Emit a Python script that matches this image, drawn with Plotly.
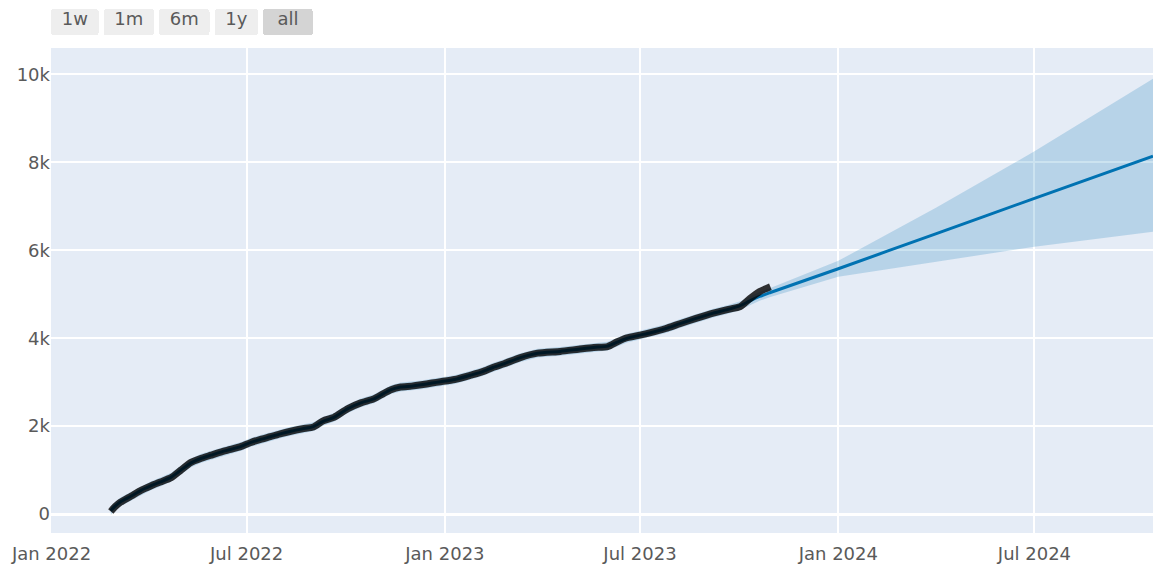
import pandas as pd
import plotly.graph_objects as go

# Observed daily totals (sampled)
actual_dates = [
    "2022-02-25", "2022-03-01", "2022-03-06", "2022-03-16", "2022-03-25",
    "2022-04-03", "2022-04-12", "2022-04-22", "2022-05-01", "2022-05-10",
    "2022-05-20", "2022-05-29", "2022-06-07", "2022-06-16", "2022-06-26",
    "2022-07-05", "2022-07-14", "2022-07-23", "2022-08-02", "2022-08-12",
    "2022-08-22", "2022-09-01", "2022-09-10", "2022-09-20", "2022-10-03",
    "2022-10-15", "2022-10-27", "2022-11-05", "2022-11-12", "2022-11-21",
    "2022-12-01", "2022-12-10", "2022-12-20", "2022-12-28", "2023-01-10",
    "2023-01-25", "2023-02-05", "2023-02-15", "2023-02-25", "2023-03-12",
    "2023-03-28", "2023-04-18", "2023-05-05", "2023-05-19", "2023-06-01",
    "2023-06-10", "2023-06-19", "2023-07-01", "2023-07-10", "2023-07-25",
    "2023-08-07", "2023-08-22", "2023-09-07", "2023-09-20", "2023-10-02",
    "2023-10-11", "2023-10-20", "2023-10-30",
]
actual_values = [
    60, 170, 270, 410, 540,
    640, 730, 830, 1000, 1170,
    1270, 1340, 1410, 1470, 1540,
    1630, 1700, 1760, 1830, 1890,
    1940, 1980, 2120, 2200, 2400,
    2530, 2620, 2740, 2830, 2890,
    2910, 2940, 2980, 3010, 3060,
    3160, 3240, 3340, 3420, 3560,
    3660, 3700, 3750, 3790, 3810,
    3920, 4010, 4070, 4120, 4220,
    4330, 4450, 4570, 4650, 4720,
    4900, 5060, 5170,
]

# Model fit over the history (same dates as the observations)
fit_values = [
    80, 180, 280, 410, 540,
    640, 730, 840, 1000, 1160,
    1270, 1340, 1410, 1470, 1540,
    1630, 1700, 1760, 1830, 1890,
    1940, 1990, 2110, 2200, 2400,
    2530, 2620, 2740, 2830, 2890,
    2910, 2940, 2980, 3010, 3060,
    3160, 3240, 3340, 3420, 3560,
    3660, 3700, 3750, 3790, 3820,
    3910, 4000, 4070, 4120, 4220,
    4330, 4450, 4570, 4650, 4740,
    4850, 4950, 5040,
]

# Future horizon
future_dates = ["2024-01-01", "2024-04-01", "2024-07-01", "2024-10-19"]
future_yhat = [5580, 6380, 7180, 8140]
future_lower = [5400, 5740, 6080, 6420]
future_upper = [5760, 6970, 8250, 9900]

# Width of the uncertainty band over the history
history_half_band = 100

# Dates the x autorange must cover
x_extent = ["2021-12-31 12:00", "2024-10-19"]

hist_x = pd.to_datetime(actual_dates)
fc_x = hist_x.append(pd.to_datetime(future_dates))
yhat = fit_values + future_yhat
yhat_lower = [v - history_half_band for v in fit_values] + future_lower
yhat_upper = [v + history_half_band for v in fit_values] + future_upper

prediction_color = "#0072B2"
error_color = "rgba(0, 114, 178, 0.2)"
text_color = "#5a5a5a"

fig = go.Figure()
fig.add_trace(go.Scatter(
    x=fc_x, y=yhat_lower, mode="lines", line=dict(width=0),
    hoverinfo="skip",
))
fig.add_trace(go.Scatter(
    name="Predicted", x=fc_x, y=yhat, mode="lines",
    line=dict(color=prediction_color, width=3, shape="spline", smoothing=0.6),
    fillcolor=error_color, fill="tonexty",
))
fig.add_trace(go.Scatter(
    x=fc_x, y=yhat_upper, mode="lines", line=dict(width=0),
    fillcolor=error_color, fill="tonexty", hoverinfo="skip",
))
fig.add_trace(go.Scatter(
    name="Actual", x=hist_x, y=actual_values, mode="lines",
    line=dict(color="rgba(0, 0, 0, 0.8)", width=7, shape="spline", smoothing=0.6),
))

ts = "\u2009"
nb = "\u00a0"
fig.update_layout(
    template="plotly",
    width=1153, height=565,
    showlegend=False,
    margin=dict(l=51, r=0, t=48, b=32),
    font=dict(family="DejaVu Sans", size=18, color=text_color),
    xaxis=dict(
        type="date",
        autorange=True,
        autorangeoptions=dict(include=x_extent),
        gridwidth=1.5,
        ticklabelstandoff=8,
        tickfont=dict(color=text_color),
        rangeselector=dict(
            buttons=[
                dict(count=7, label=nb + "1w" + nb, step="day", stepmode="backward"),
                dict(count=1, label=nb + "1m" + nb, step="month", stepmode="backward"),
                dict(count=6, label=nb + "6m" + nb, step="month", stepmode="backward"),
                dict(count=1, label=nb + "1y" + nb, step="year", stepmode="backward"),
                dict(step="all", label=nb + ts + "all" + ts + nb),
            ],
            font=dict(size=18, color=text_color),
            y=1.025,
        ),
    ),
    yaxis=dict(range=[-430, 10600], dtick=2000, gridwidth=1.5, zerolinewidth=3,
               tickfont=dict(color=text_color)),
)

fig.write_html("out.html")
